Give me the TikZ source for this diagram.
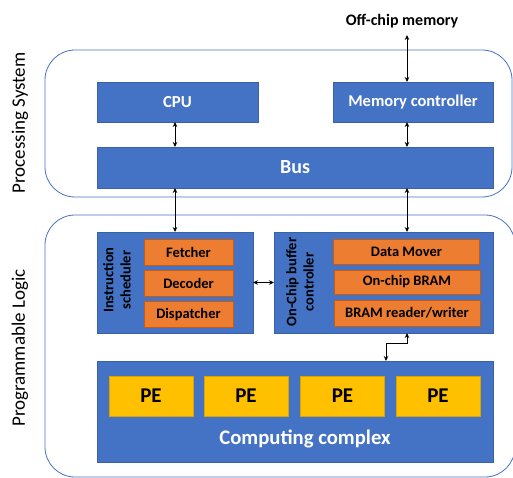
\documentclass[tikz,border=0pt]{standalone}
\usepackage{fontspec}
\setmainfont{Carlito}
\usetikzlibrary{arrows.meta}
\definecolor{blu}{HTML}{4472C4}
\definecolor{org}{HTML}{ED7D31}
\definecolor{orgedge}{HTML}{C55A11}
\definecolor{ylw}{HTML}{FFC000}
\definecolor{ylwedge}{HTML}{BF9000}
\begin{document}
\begin{tikzpicture}[x=1pt,y=-1pt,
  fs/.style={font=\fontsize{#1pt}{\dimexpr#1pt*6/5\relax}\selectfont\bfseries},
  frame/.style={draw=blu, line width=0.8pt, rounded corners=30pt},
  bbox/.style={draw=blu!85!black, fill=blu, line width=0.5pt, inner sep=0pt, outer sep=0pt, text=white},
  obox/.style={draw=orgedge, fill=org, line width=0.5pt, inner sep=0pt, outer sep=0pt, text=black, fs=14.5},
  pebox/.style={draw=ylwedge!60!ylw, fill=ylw, line width=0.5pt, inner sep=0pt, outer sep=0pt, text=black, fs=21, minimum width=84pt, minimum height=40pt},
  dar/.style={{Stealth[length=5pt,width=4.5pt]}-{Stealth[length=5pt,width=4.5pt]}, line width=0.9pt, black},
  side/.style={rotate=90, font=\fontsize{19pt}{22pt}\selectfont, text=black}
]
\useasboundingbox (0,0) rectangle (513,478);
% frames
\draw[frame] (45,50) rectangle (512,197);
\draw[frame] (45,215) rectangle (515,477);
\node[side] (pslabel) at (20,123) {Processing System};
\node[side] (pllabel) at (20,348) {Programmable Logic};
% processing system
\node[bbox, fs=16.8, minimum width=161pt, minimum height=40pt] (cpu) at (177.5,102) {CPU};
\node[bbox, fs=16.5, minimum width=160pt, minimum height=40pt] (mem) at (413,102) {Memory controller};
\node[bbox, fs=20, minimum width=396pt, minimum height=41pt] (bus) at (295,167.5) {Bus};
\node[fs=16, text=black, inner sep=0pt] (off) at (402,21) {Off-chip memory};
% programmable logic
\node[bbox, minimum width=156pt, minimum height=101pt] (sched) at (175,282.5) {};
\node[bbox, minimum width=219pt, minimum height=101pt] (obc) at (383.5,282.5) {};
\node[rotate=90, align=center, text=black, fs=14.5, inner sep=0pt] (schedlbl) at (117,280) {Instruction\\scheduler};
\node[rotate=90, align=center, text=black, fs=14.5, inner sep=0pt] (obclbl) at (300,282) {On-Chip buffer\\controller};
\node[obox, minimum width=89pt, minimum height=26pt] (fet) at (188.5,252) {Fetcher};
\node[obox, minimum width=89pt, minimum height=26pt] (dec) at (188.5,283.5) {Decoder};
\node[obox, minimum width=89pt, minimum height=26pt] (dis) at (188.5,314.5) {Dispatcher};
\node[obox, minimum width=146pt, minimum height=25pt] (dm) at (406.5,251.5) {Data Mover};
\node[obox, minimum width=146pt, minimum height=24pt] (bram) at (407,282) {On-chip BRAM};
\node[obox, minimum width=146pt, minimum height=26pt] (brw) at (407,313) {BRAM reader/writer};
\node[bbox, minimum width=396pt, minimum height=101pt] (cc) at (295,411.5) {};
\node[pebox] (pe1) at (151,396) {PE};
\node[pebox] (pe2) at (246,396) {PE};
\node[pebox] (pe3) at (342.5,396) {PE};
\node[pebox] (pe4) at (438,396) {PE};
\node[fs=20.7, text=white, inner sep=0pt] (cclbl) at (305,439) {Computing complex};
% connectors
\coordinate (offtop) at (407,35);
\coordinate (elb) at (386,343);
\draw[dar] (offtop) -- (offtop |- mem.north);
\draw[dar] (sched.north |- cpu.south) -- (sched.north |- bus.north);
\draw[dar] (offtop |- mem.south) -- (offtop |- bus.north);
\draw[dar] (sched.north |- bus.south) -- (sched.north);
\draw[dar] (offtop |- bus.south) -- (offtop |- obc.north);
\draw[dar] (sched.east) -- (obc.west);
\draw[dar] (offtop |- obc.south) |- (elb) -- (elb |- cc.north);
\end{tikzpicture}
\end{document}
